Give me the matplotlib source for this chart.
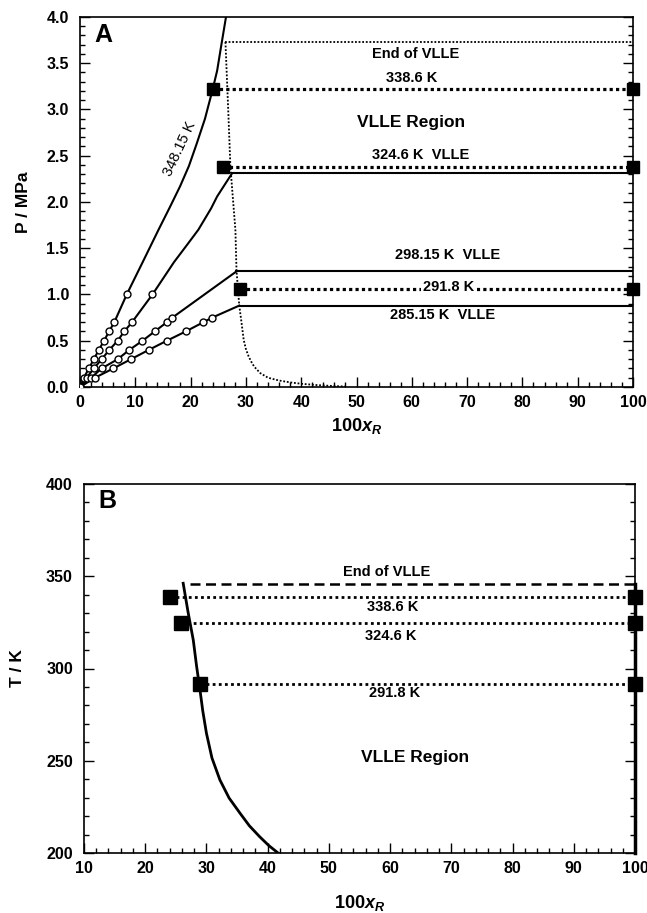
import matplotlib
matplotlib.use("Agg")
import matplotlib.pyplot as plt
from matplotlib.ticker import MultipleLocator

plt.rcParams['font.family'] = ['Liberation Sans', 'DejaVu Sans']
plt.rcParams['font.weight'] = 'bold'
plt.rcParams['mathtext.fontset'] = 'custom'
plt.rcParams['mathtext.it'] = 'Liberation Sans:bold:italic'
plt.rcParams['mathtext.rm'] = 'Liberation Sans:bold'

# ---------------- Panel A data ----------------
# isotherm model curves (100 x_R, P/MPa)
iso348_x = [0, 0.7, 1.6, 2.5, 3.4, 4.35, 5.25, 6.2, 8.45, 11.5, 14.2, 16.3, 18.1, 19.7, 21.1, 22.6, 24.0, 24.8, 25.4, 25.9, 26.4]
iso348_p = [0, 0.1, 0.2, 0.3, 0.4, 0.5, 0.6, 0.7, 1.0, 1.37, 1.70, 1.95, 2.17, 2.39, 2.63, 2.90, 3.22, 3.42, 3.64, 3.82, 4.0]
iso324_x = [0, 1.2, 2.5, 3.9, 5.3, 6.8, 8.0, 9.4, 13.1, 17.0, 19.4, 21.4, 22.5, 23.7, 24.8, 26.2, 27.5]
iso324_p = [0, 0.1, 0.2, 0.3, 0.4, 0.5, 0.6, 0.7, 1.0, 1.35, 1.54, 1.70, 1.81, 1.93, 2.06, 2.19, 2.31]
iso298_x = [0, 2.0, 3.9, 6.8, 8.9, 11.3, 13.5, 15.7, 16.7, 28.3]
iso298_p = [0, 0.1, 0.2, 0.3, 0.4, 0.5, 0.6, 0.7, 0.75, 1.25]
iso285_x = [0, 2.7, 6.0, 9.2, 12.4, 15.7, 19.1, 22.3, 23.9, 28.8]
iso285_p = [0, 0.1, 0.2, 0.3, 0.4, 0.5, 0.6, 0.7, 0.75, 0.88]

# experimental points (open circles)
exp348_x = [0, 0.7, 1.6, 2.5, 3.4, 4.35, 5.25, 6.2, 8.45]
exp348_p = [0, 0.1, 0.2, 0.3, 0.4, 0.5, 0.6, 0.7, 1.0]
exp324_x = [0, 1.2, 2.5, 3.9, 5.3, 6.8, 8.0, 9.4, 13.1]
exp324_p = [0, 0.1, 0.2, 0.3, 0.4, 0.5, 0.6, 0.7, 1.0]
exp298_x = [0, 2.0, 3.9, 6.8, 8.9, 11.3, 13.5, 15.7, 16.7]
exp298_p = [0, 0.1, 0.2, 0.3, 0.4, 0.5, 0.6, 0.7, 0.75]
exp285_x = [0, 2.7, 6.0, 9.2, 12.4, 15.7, 19.1, 22.3, 23.9]
exp285_p = [0, 0.1, 0.2, 0.3, 0.4, 0.5, 0.6, 0.7, 0.75]

# VLLE horizontal model lines (pressure)
vlle_model_p = [2.31, 1.25, 0.88]
vlle_model_x0 = [27.5, 28.3, 28.8]

# measured VLLE (squares) in A
sq_x = [24.0, 25.8, 29.0]
sq_p = [3.22, 2.38, 1.06]

# End of VLLE boundary (thin dotted)
end_x = [26.3, 26.8, 27.2, 27.7, 28.1, 28.3, 28.8, 29.2, 29.6, 30.0, 30.5, 31.0, 31.5, 32.6, 34, 36, 38, 40, 43, 46, 48]
end_p = [3.73, 3.0, 2.38, 2.0, 1.70, 1.26, 0.88, 0.7, 0.51, 0.41, 0.33, 0.27, 0.22, 0.15, 0.10, 0.07, 0.05, 0.035, 0.02, 0.01, 0.005]
end_top_p = 3.73

# ---------------- Panel B data ----------------
bnd_x = [26.2, 27.0, 27.85, 28.4, 28.95, 29.4, 30.0, 30.9, 32.2, 33.7, 35.5, 37.0, 38.7, 40.2, 41.7]
bnd_T = [346.2, 330.5, 315.4, 301.0, 288.3, 277.0, 264.9, 251.5, 239.6, 229.8, 221.5, 214.8, 208.8, 204.0, 200]
sqB_x = [24.0, 25.8, 29.0]
sqB_T = [338.6, 324.6, 291.8]
endB_T = 345.6
endB_x0 = 27.3

fig = plt.figure(figsize=(6.47, 9.13), dpi=100)

def style(ax):
    ax.tick_params(which='both', direction='in', right=True, top=False,
                   labelsize=11.5, width=1)
    ax.tick_params(which='major', length=7)
    ax.tick_params(which='minor', length=3.5)
    ax.tick_params(axis='y', pad=8)
    ax.tick_params(axis='x', pad=6)
    for s in ax.spines.values():
        s.set_linewidth(1.2)
    for lab in ax.get_xticklabels() + ax.get_yticklabels():
        lab.set_fontweight('bold')

# ---------------- Panel A ----------------
axA = fig.add_axes([80/647, 1-387/913, (633-80)/647, (387-17)/913])
for xs, ps in [(iso348_x, iso348_p), (iso324_x, iso324_p), (iso298_x, iso298_p), (iso285_x, iso285_p)]:
    axA.plot(xs, ps, color='black', lw=1.5, zorder=3)
for x0, p in zip(vlle_model_x0, vlle_model_p):
    axA.plot([x0, 100], [p, p], color='black', lw=1.5, zorder=3)
for xs, ps in [(exp348_x, exp348_p), (exp324_x, exp324_p), (exp298_x, exp298_p), (exp285_x, exp285_p)]:
    axA.plot(xs, ps, 'o', ms=5, mfc='white', mec='black', mew=1, zorder=5)
# End of VLLE
axA.plot(end_x, end_p, color='black', lw=1.3, ls=(0, (1, 1)), zorder=2)
axA.plot([end_x[0], 100], [end_top_p, end_top_p], color='black', lw=1.3, ls=(0, (1, 1)), zorder=2)
# measured VLLE
for x, p in zip(sq_x, sq_p):
    axA.plot([x, 100], [p, p], color='black', lw=2.3, ls=(0, (1, 1)), zorder=4)
    axA.plot([x, 100], [p, p], 's', color='black', ms=8, zorder=6, clip_on=False)

axA.set_xlim(0, 100)
axA.set_ylim(0, 4.0)
axA.xaxis.set_major_locator(MultipleLocator(10))
axA.xaxis.set_minor_locator(MultipleLocator(2))
axA.yaxis.set_major_locator(MultipleLocator(0.5))
axA.yaxis.set_minor_locator(MultipleLocator(0.1))
axA.yaxis.set_major_formatter(matplotlib.ticker.FormatStrFormatter('%.1f'))
style(axA)
axA.set_ylabel('P / MPa', fontsize=12.5, fontweight='bold', labelpad=11)
axA.set_xlabel('100$x_R$', fontsize=13, fontweight='bold', labelpad=4)

axA.text(4.2, 3.8, 'A', fontsize=18, fontweight='bold', ha='center', va='center')
axA.text(60.7, 3.6, 'End of VLLE', fontsize=10.5, fontweight='bold', ha='center', va='center')
axA.text(60.0, 3.34, '338.6 K', fontsize=10.5, fontweight='bold', ha='center', va='center')
axA.text(59.8, 2.86, 'VLLE Region', fontsize=12.5, fontweight='bold', ha='center', va='center')
axA.text(61.6, 2.51, '324.6 K  VLLE', fontsize=10.5, fontweight='bold', ha='center', va='center')
axA.text(66.4, 1.43, '298.15 K  VLLE', fontsize=10.5, fontweight='bold', ha='center', va='center')
axA.text(66.7, 1.085, '291.8 K', fontsize=10.5, fontweight='bold', ha='center', va='center', zorder=7,
         bbox=dict(boxstyle='square,pad=0.15', fc='white', ec='none'))
axA.text(65.5, 0.78, '285.15 K  VLLE', fontsize=10.5, fontweight='bold', ha='center', va='center')
axA.text(18.0, 2.58, '348.15 K', fontsize=10.5, fontweight='normal', ha='center', va='center',
         rotation=65)

# ---------------- Panel B ----------------
axB = fig.add_axes([84/647, 1-853/913, (635-84)/647, (853-484)/913])
axB.plot(bnd_x, bnd_T, color='black', lw=2, zorder=3)
axB.plot([100, 100], [200, endB_T], color='black', lw=2.5, zorder=3, clip_on=False)
axB.plot([endB_x0, 100], [endB_T, endB_T], color='black', lw=1.8, ls=(0, (4, 2.2)), zorder=3)
for x, T in zip(sqB_x, sqB_T):
    axB.plot([x, 100], [T, T], color='black', lw=2.0, ls=(0, (1, 1.2)), zorder=4)
    axB.plot([x, 100], [T, T], 's', color='black', ms=10.5, zorder=6, clip_on=False)
axB.set_xlim(10, 100)
axB.set_ylim(200, 400)
axB.xaxis.set_major_locator(MultipleLocator(10))
axB.xaxis.set_minor_locator(MultipleLocator(2))
axB.yaxis.set_major_locator(MultipleLocator(50))
axB.yaxis.set_minor_locator(MultipleLocator(10))
style(axB)
axB.set_ylabel('T / K', fontsize=12.5, fontweight='bold', labelpad=15)
axB.set_xlabel('100$x_R$', fontsize=13, fontweight='bold', labelpad=12)

axB.text(13.8, 391, 'B', fontsize=18, fontweight='bold', ha='center', va='center')
axB.text(59.4, 352.1, 'End of VLLE', fontsize=10.5, fontweight='bold', ha='center', va='center')
axB.text(60.5, 333.5, '338.6 K', fontsize=10.5, fontweight='bold', ha='center', va='center')
axB.text(60.1, 317.6, '324.6 K', fontsize=10.5, fontweight='bold', ha='center', va='center')
axB.text(60.8, 286.6, '291.8 K', fontsize=10.5, fontweight='bold', ha='center', va='center')
axB.text(64.1, 252, 'VLLE Region', fontsize=12.5, fontweight='bold', ha='center', va='center')

fig.savefig('out.png', dpi=100)
